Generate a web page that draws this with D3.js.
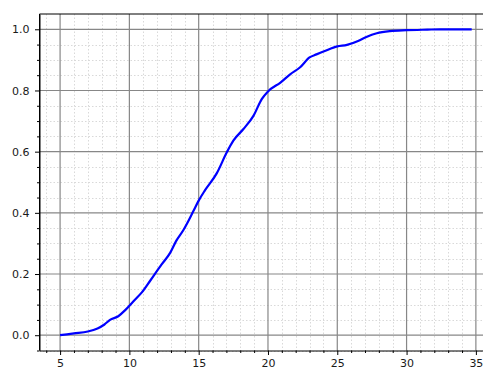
<!DOCTYPE html>
<html>
<head>
<meta charset="utf-8">
<script src="https://cdn.jsdelivr.net/npm/d3@7"></script>
<style>
  body { margin: 0; background: #fff; }
  svg { display: block; }
</style>
</head>
<body>
<div id="root"></div>
<script>
// CDF curve
const xValues = [5, 6, 7, 7.7, 8.2, 8.6, 9.2, 9.7, 10.4, 10.9, 11.5, 12.3, 12.94, 13.4, 13.9,
  14.6, 15.0, 15.46, 16.3, 17.03, 17.5, 18.23, 18.95, 19.55, 20, 20.9, 21.6, 22.3, 23.0,
  23.5, 24.1, 25, 25.7, 26.5, 27.1, 27.85, 28.8, 30, 31.5, 32.4, 34.7];
const yValues = [0, 0.006, 0.012, 0.022, 0.035, 0.05, 0.062, 0.082, 0.116, 0.14, 0.178, 0.23, 0.269, 0.31, 0.344,
  0.404, 0.44, 0.474, 0.529, 0.598, 0.636, 0.674, 0.717, 0.772, 0.797, 0.826, 0.853, 0.875, 0.908,
  0.918, 0.929, 0.944, 0.949, 0.962, 0.975, 0.987, 0.994, 0.997, 0.999, 1.0, 1.0];
const xTicks = [5, 10, 15, 20, 25, 30, 35];
const yTicks = [0.0, 0.2, 0.4, 0.6, 0.8, 1.0];

const w = 483, h = 367;
const mLeft = 39.5, mTop = 14, mRight = 492.3, mBottom = 350.5;

const svg = d3.select('#root').append('svg')
  .attr('width', w)
  .attr('height', h);

const x = d3.scaleLinear().domain([3.515, 36.185]).range([mLeft, mRight]);
const y = d3.scaleLinear().domain([-0.05, 1.05]).range([mBottom, mTop]);

const xMinor = d3.range(4, 37, 1).filter(d => d % 5 !== 0);
const yMinor = [-0.05].concat(d3.range(1, 21).filter(i => i % 4 !== 0).map(i => i * 0.05));

const plot = svg.append('g');

// minor grid (dotted)
plot.selectAll('.mgx').data(xMinor).enter().append('line')
  .attr('x1', d => Math.round(x(d)) + 0.5).attr('x2', d => Math.round(x(d)) + 0.5)
  .attr('y1', mTop).attr('y2', mBottom)
  .attr('stroke', '#d9d9d9').attr('stroke-width', 1).attr('stroke-dasharray', '1.5,2');
plot.selectAll('.mgy').data(yMinor).enter().append('line')
  .attr('x1', mLeft).attr('x2', mRight)
  .attr('y1', d => Math.round(y(d)) + 0.5).attr('y2', d => Math.round(y(d)) + 0.5)
  .attr('stroke', '#d9d9d9').attr('stroke-width', 1).attr('stroke-dasharray', '1.5,2');

// major grid
plot.selectAll('.gx').data(xTicks).enter().append('line')
  .attr('x1', d => x(d)).attr('x2', d => x(d))
  .attr('y1', mTop).attr('y2', mBottom)
  .attr('stroke', '#878787').attr('stroke-width', 1.2);
plot.selectAll('.gy').data(yTicks).enter().append('line')
  .attr('x1', mLeft).attr('x2', mRight)
  .attr('y1', d => y(d)).attr('y2', d => y(d))
  .attr('stroke', '#878787').attr('stroke-width', 1.2);

// curve
const line = d3.line()
  .x((d, i) => x(xValues[i]))
  .y(d => y(d))
  .curve(d3.curveMonotoneX);
plot.append('path')
  .datum(yValues)
  .attr('d', line)
  .attr('fill', 'none')
  .attr('stroke', '#0000ff')
  .attr('stroke-width', 2.2)
  .attr('stroke-linejoin', 'round');

// spines
svg.append('line').attr('x1', mLeft).attr('x2', mLeft).attr('y1', mTop).attr('y2', mBottom)
  .attr('stroke', '#000').attr('stroke-width', 1);
svg.append('line').attr('x1', mLeft).attr('x2', mRight).attr('y1', mTop).attr('y2', mTop)
  .attr('stroke', '#000').attr('stroke-width', 1);

// axes
const xAxis = d3.axisBottom(x).tickValues(xTicks).tickFormat(d3.format('d'))
  .tickSizeInner(4.5).tickSizeOuter(0).tickPadding(4.5);
svg.append('g').attr('transform', `translate(0,${mBottom})`).call(xAxis);
svg.append('g').attr('transform', `translate(0,${mBottom})`)
  .call(d3.axisBottom(x).tickValues(xMinor).tickFormat('').tickSizeInner(2.5).tickSizeOuter(0))
  .select('.domain').remove();

const yAxis = d3.axisLeft(y).tickValues(yTicks).tickFormat(d3.format('.1f'))
  .tickSizeInner(4.5).tickSizeOuter(0).tickPadding(5.5);
svg.append('g').attr('transform', `translate(${mLeft},0)`).call(yAxis);
svg.append('g').attr('transform', `translate(${mLeft},0)`)
  .call(d3.axisLeft(y).tickValues(yMinor).tickFormat('').tickSizeInner(2.5).tickSizeOuter(0))
  .select('.domain').remove();

svg.selectAll('.domain').attr('stroke', '#000').attr('stroke-width', 1);
svg.selectAll('.tick line').attr('stroke', '#000');
svg.selectAll('.tick text')
  .attr('font-family', 'DejaVu Sans, sans-serif')
  .attr('font-size', '11px')
  .attr('fill', '#1a1a1a');
</script>
</body>
</html>
